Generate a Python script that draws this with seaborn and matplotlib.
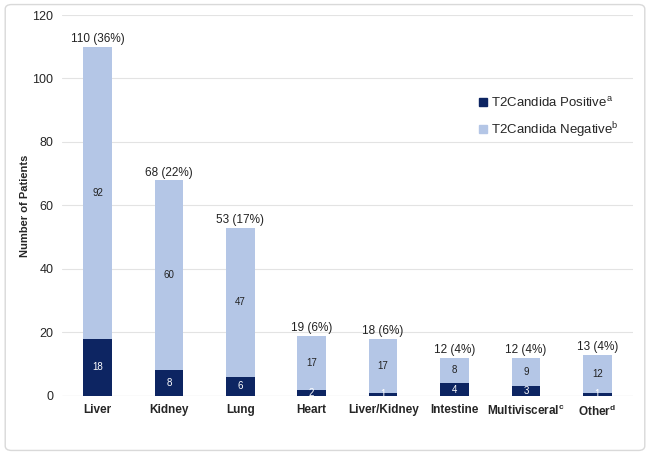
import matplotlib
matplotlib.use("Agg")
import matplotlib.pyplot as plt
from matplotlib.patches import FancyBboxPatch, Patch
import seaborn as sns
import pandas as pd

# Данные
categories = ["Liver", "Kidney", "Lung", "Heart", "Liver/Kidney", "Intestine",
              "Multivisceral", "Other"]
tick_labels = ["Liver", "Kidney", "Lung", "Heart", "Liver/Kidney", "Intestine",
               "Multivisceral$^{\\mathregular{c}}$", "Other$^{\\mathregular{d}}$"]
positive = [18, 8, 6, 2, 1, 4, 3, 1]
negative = [92, 60, 47, 17, 17, 8, 9, 12]
total_labels = ["110 (36%)", "68 (22%)", "53 (17%)", "19 (6%)", "18 (6%)",
                "12 (4%)", "12 (4%)", "13 (4%)"]

dark = "#0d2562"
light = "#b4c6e6"

sns.set_style("white")
plt.rcParams["font.family"] = ["Liberation Sans", "DejaVu Sans"]

df = pd.DataFrame({"organ": categories, "pos": positive, "neg": negative})
df["total"] = df["pos"] + df["neg"]

fig = plt.figure(figsize=(6.5, 4.55), dpi=100)
ax = fig.add_axes([0.095, 0.13, 0.879, 0.837])

# рамка вокруг картинки
fig.patches.append(FancyBboxPatch((0.008, 0.01), 0.984, 0.98, boxstyle="round,pad=0,rounding_size=0.01",
                                  transform=fig.transFigure, fill=False, edgecolor="#d9d9d9", lw=1))

sns.barplot(data=df, x="organ", y="total", color=light, width=0.4, ax=ax, saturation=1, linewidth=0)
sns.barplot(data=df, x="organ", y="pos", color=dark, width=0.4, ax=ax, saturation=1, linewidth=0)

bars_total = ax.containers[0]
bars_pos = ax.containers[1]

# подписи сегментов
for rect, p, n in zip(bars_pos, positive, negative):
    cx = rect.get_x() + rect.get_width() / 2
    ax.text(cx, p / 2, str(p), ha="center", va="center", color="white", fontsize=7)
    ax.text(cx, p + n / 2, str(n), ha="center", va="center", color="#222222", fontsize=7)

ax.bar_label(bars_total, labels=total_labels, padding=1, fontsize=8.5, color="#222222")

ax.set_ylim(0, 120)
ax.set_yticks(range(0, 121, 20))
ax.yaxis.grid(True, color="#e3e3e3", lw=0.8)
ax.set_axisbelow(True)
sns.despine(ax=ax, left=True, bottom=True)
ax.axhline(0, color="#d9d9d9", lw=0.8, zorder=0)
ax.set_xticks(range(len(categories)))
ax.set_xticklabels(tick_labels, fontsize=8.5, fontweight="bold")
ax.tick_params(axis="both", length=0, pad=6)
ax.tick_params(axis="y", labelsize=9)
ax.set_xlabel("")
ax.set_ylabel("Number of Patients", fontsize=8, fontweight="bold", labelpad=2)

handles = [Patch(color=dark, label="T2Candida Positive$^{\\mathregular{a}}$"),
           Patch(color=light, label="T2Candida Negative$^{\\mathregular{b}}$")]
ax.legend(handles=handles, frameon=False, loc="upper left", bbox_to_anchor=(0.71, 0.82),
          fontsize=9.5, handlelength=0.55, handleheight=0.55, handletextpad=0.35, labelspacing=0.8)

fig.savefig("out.png", dpi=100)
